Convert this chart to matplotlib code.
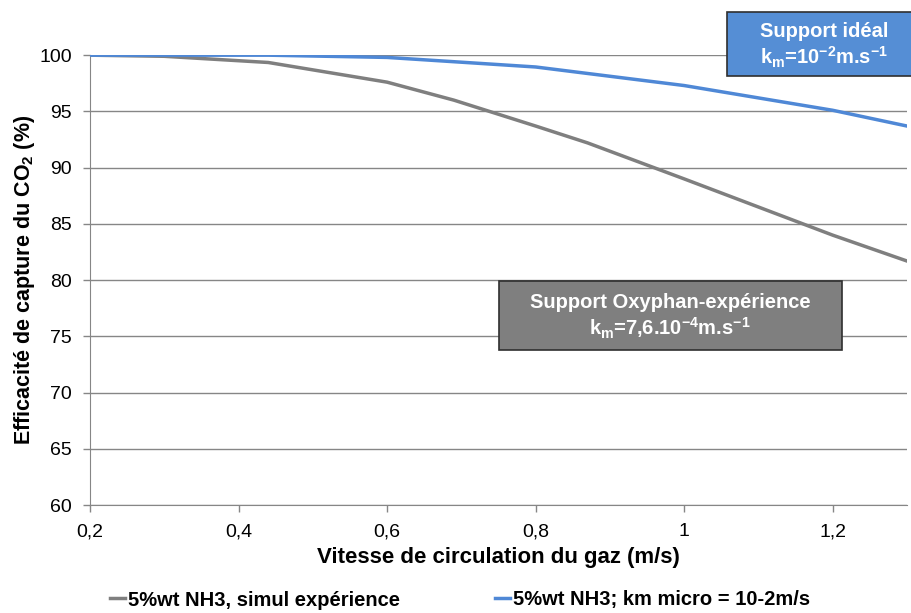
import matplotlib
matplotlib.use("Agg")
import matplotlib.pyplot as plt

plt.rcParams["font.family"] = ["Liberation Sans", "DejaVu Sans"]
plt.rcParams["mathtext.fontset"] = "custom"
plt.rcParams["mathtext.rm"] = "Liberation Sans:bold"
plt.rcParams["mathtext.it"] = "Liberation Sans:bold"
plt.rcParams["mathtext.bf"] = "Liberation Sans:bold"
plt.rcParams["mathtext.default"] = "rm"

# data
x_simul = [0.2, 0.3, 0.44, 0.6, 0.69, 0.8, 0.87, 1.0, 1.1, 1.2, 1.3]
y_simul = [100, 99.9, 99.35, 97.6, 96.0, 93.7, 92.2, 89.0, 86.5, 84.0, 81.7]
x_ideal = [0.2, 0.44, 0.6, 0.8, 1.0, 1.2, 1.3]
y_ideal = [100, 100, 99.8, 98.95, 97.3, 95.1, 93.7]

label_simul = "5%wt NH3, simul expérience"
label_ideal = "5%wt NH3; km micro = 10-2m/s"
xticks = [0.2, 0.4, 0.6, 0.8, 1.0, 1.2]
xticklabels = ["0,2", "0,4", "0,6", "0,8", "1", "1,2"]
yticks = [60, 65, 70, 75, 80, 85, 90, 95, 100]

gray = "#7f7f7f"
blue = "#4f88d6"
axis_col = "#868686"

fig = plt.figure(figsize=(9.12, 6.13), dpi=100)
ax = fig.add_axes([0.0987, 0.176, 0.8958, 0.734])

ax.plot(x_simul, y_simul, color=gray, lw=2.5, label=label_simul, zorder=3)
ax.plot(x_ideal, y_ideal, color=blue, lw=2.5, label=label_ideal, zorder=3)

ax.set_xlim(0.2, 1.3)
ax.set_ylim(60, 100)
ax.set_xticks(xticks)
ax.set_xticklabels(xticklabels)
ax.set_yticks(yticks)
ax.tick_params(labelsize=14, color=axis_col, length=5, width=1)
ax.tick_params(axis="y", pad=8)
ax.tick_params(axis="x", pad=8)
ax.yaxis.grid(True, color=axis_col, lw=1)
ax.set_axisbelow(True)
for s in ["top", "right"]:
    ax.spines[s].set_visible(False)
for s in ["left", "bottom"]:
    ax.spines[s].set_color(axis_col)

ax.set_xlabel("Vitesse de circulation du gaz (m/s)", fontsize=16,
              fontweight="bold", labelpad=5)
ax.set_ylabel("Efficacité de capture du CO$_2$ (%)", fontsize=15.5,
              fontweight="bold", labelpad=1.5)

# annotation boxes
fig.patches.append(plt.Rectangle((727 / 912, 1 - 76 / 613), 190 / 912, 64 / 613,
                                 transform=fig.transFigure, facecolor="#558ed5",
                                 edgecolor="#2f2f2f", lw=1.2, zorder=5))
fig.text(824 / 912, 1 - 46 / 613,
         "Support idéal\nk$_\\mathrm{m}$=10$^\\mathrm{-2}$m.s$^\\mathrm{-1}$",
         ha="center", va="center", color="white", fontsize=14.5,
         fontweight="bold", linespacing=1.2, zorder=6)

fig.patches.append(plt.Rectangle((499 / 912, 1 - 350 / 613), 343 / 912, 69 / 613,
                                 transform=fig.transFigure, facecolor=gray,
                                 edgecolor="#2f2f2f", lw=1.2, zorder=5))
fig.text(670 / 912, 1 - 317 / 613,
         "Support Oxyphan-expérience\nk$_\\mathrm{m}$=7,6.10$^\\mathrm{-4}$m.s$^\\mathrm{-1}$",
         ha="center", va="center", color="white", fontsize=14.5,
         fontweight="bold", linespacing=1.2, zorder=6)

fig.legend(loc="center", bbox_to_anchor=(460 / 912, 1 - 600 / 613), ncol=2,
           frameon=False, prop={"weight": "bold", "size": 14.5},
           handlelength=0.75, handletextpad=0.15, columnspacing=4.7)

fig.savefig("out.png", dpi=100)
